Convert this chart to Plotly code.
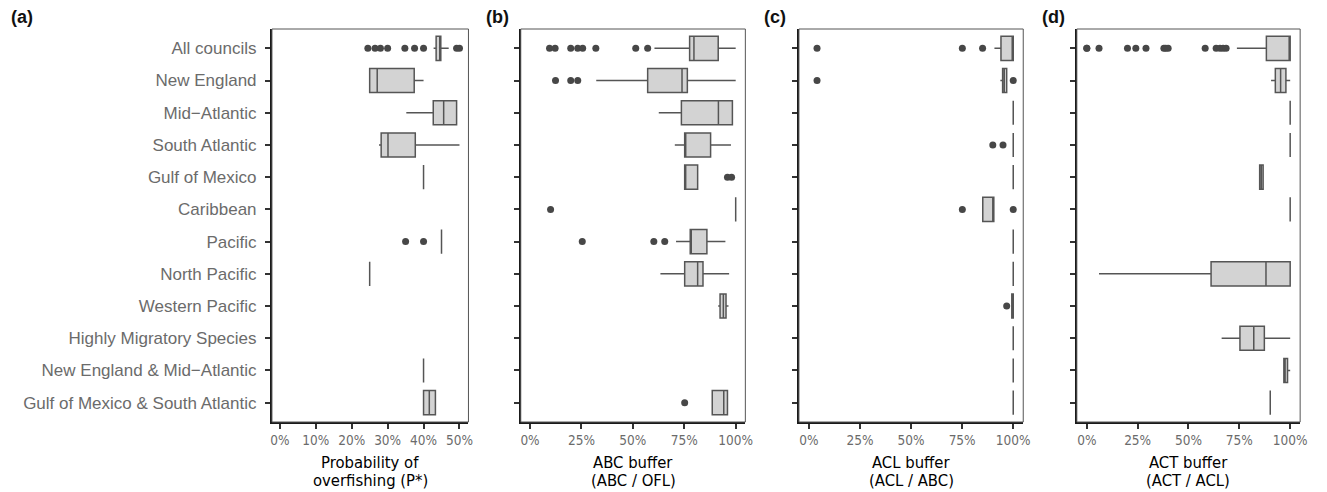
import plotly.graph_objects as go

categories = ["All councils", "New England", "Mid\u2212Atlantic", "South Atlantic",
              "Gulf of Mexico", "Caribbean", "Pacific", "North Pacific",
              "Western Pacific", "Highly Migratory Species",
              "New England & Mid\u2212Atlantic", "Gulf of Mexico & South Atlantic"]

# ---- Panel (a): Probability of overfishing (P*), percent
a_cat = ["All councils", "New England", "Mid\u2212Atlantic", "South Atlantic", "Gulf of Mexico",
         "Pacific", "North Pacific", "New England & Mid\u2212Atlantic", "Gulf of Mexico & South Atlantic"]
a_lo  = [42.8, 25.0, 35.2, 27.6, 40.0, 45.0, 25.0, 40.0, 40.0]
a_q1  = [43.5, 25.0, 42.7, 28.2, 40.0, 45.0, 25.0, 40.0, 40.0]
a_med = [44.5, 27.1, 45.6, 30.1, 40.0, 45.0, 25.0, 40.0, 41.6]
a_q3  = [44.8, 37.4, 49.2, 37.7, 40.0, 45.0, 25.0, 40.0, 43.3]
a_hi  = [47.0, 40.0, 49.2, 50.0, 40.0, 45.0, 25.0, 40.0, 43.3]
a_out_cat = ["All councils"] * 9 + ["Pacific"] * 2
a_out_val = [24.5, 26.5, 28.0, 30.0, 34.8, 37.5, 40.0, 49.2, 50.0, 35.0, 40.0]

# ---- Panel (b): ABC buffer (ABC / OFL)
b_cat = ["All councils", "New England", "Mid\u2212Atlantic", "South Atlantic", "Gulf of Mexico",
         "Caribbean", "Pacific", "North Pacific", "Western Pacific", "Gulf of Mexico & South Atlantic"]
b_lo  = [60.5, 32.2, 62.6, 70.4, 75.2, 100.0, 71.0, 63.4, 91.5, 88.6]
b_q1  = [77.6, 57.2, 73.6, 75.2, 75.2, 100.0, 77.9, 75.2, 92.4, 88.6]
b_med = [79.7, 73.9, 91.6, 75.7, 75.5, 100.0, 78.1, 81.5, 94.0, 94.2]
b_q3  = [91.5, 76.5, 98.4, 87.8, 81.5, 100.0, 86.0, 84.1, 95.3, 96.0]
b_hi  = [100.0, 100.0, 98.4, 97.7, 81.5, 100.0, 95.0, 96.8, 96.5, 96.0]
b_out_cat = (["All councils"] * 8 + ["New England"] * 3 + ["Gulf of Mexico"] * 2 +
             ["Caribbean"] + ["Pacific"] * 3 + ["Gulf of Mexico & South Atlantic"])
b_out_val = [9.5, 12.2, 19.8, 23.2, 25.6, 32.0, 51.4, 57.2,
             12.4, 19.8, 23.2, 96.0, 98.0, 10.0, 25.4, 60.2, 65.5, 75.2]

# ---- Panel (c): ACL buffer (ACL / ABC)
c_cat = ["All councils", "New England", "Mid\u2212Atlantic", "South Atlantic", "Gulf of Mexico",
         "Caribbean", "Pacific", "North Pacific", "Western Pacific", "Highly Migratory Species",
         "New England & Mid\u2212Atlantic", "Gulf of Mexico & South Atlantic"]
c_lo  = [90.8, 93.7, 100, 100, 100, 85.1, 100, 100, 99.3, 100, 100, 100]
c_q1  = [94.0, 94.8, 100, 100, 100, 85.1, 100, 100, 99.3, 100, 100, 100]
c_med = [100.0, 95.6, 100, 100, 100, 90.0, 100, 100, 100, 100, 100, 100]
c_q3  = [100.0, 96.8, 100, 100, 100, 90.5, 100, 100, 100, 100, 100, 100]
c_hi  = [100.0, 96.8, 100, 100, 100, 90.5, 100, 100, 100, 100, 100, 100]
c_out_cat = (["All councils"] * 3 + ["New England"] * 2 + ["South Atlantic"] * 2 +
             ["Caribbean"] * 2 + ["Western Pacific"])
c_out_val = [4.0, 75.1, 85.0, 4.0, 100.0, 90.0, 95.0, 75.1, 100.0, 96.8]

# ---- Panel (d): ACT buffer (ACT / ACL)
d_cat = ["All councils", "New England", "Mid\u2212Atlantic", "South Atlantic", "Gulf of Mexico",
         "Caribbean", "North Pacific", "Highly Migratory Species",
         "New England & Mid\u2212Atlantic", "Gulf of Mexico & South Atlantic"]
d_lo  = [73.8, 90.6, 100, 100, 84.9, 100, 6.0, 66.3, 96.9, 90.2]
d_q1  = [88.3, 92.7, 100, 100, 85.0, 100, 61.1, 75.3, 96.9, 90.2]
d_med = [100.0, 95.3, 100, 100, 85.8, 100, 88.1, 82.1, 97.5, 90.2]
d_q3  = [100.0, 97.9, 100, 100, 86.7, 100, 100.0, 87.3, 98.7, 90.2]
d_hi  = [100.0, 100.0, 100, 100, 86.7, 100, 100.0, 100.0, 100.0, 90.2]
d_out_cat = ["All councils"] * 14 + ["North Pacific"]
d_out_val = [0.0, 6.0, 20.0, 24.1, 29.1, 37.9, 38.8, 40.0, 58.2, 63.6, 65.5, 67.0, 68.5, 0.0]

x_titles_line1 = ["Probability of", "ABC buffer", "ACL buffer", "ACT buffer"]
x_titles_line2 = ["overfishing (P*)", "(ABC / OFL)", "(ACL / ABC)", "(ACT / ACL)"]
panel_tags = ["(a)", "(b)", "(c)", "(d)"]
tickvals_a = [0, 10, 20, 30, 40, 50]
tickvals_bcd = [0, 25, 50, 75, 100]

W, H = 1327, 492
doms_px = [(272, 470), (522.7, 749), (803, 1029), (1083, 1308)]
x_ranges = [[-2.2, 52.5], [-4.5, 104.7], [-4.85, 104.9], [-4.9, 104.9]]
y_dom = [1 - 422 / H, 1 - 29 / H]

panels = [
    (a_cat, a_lo, a_q1, a_med, a_q3, a_hi, a_out_cat, a_out_val),
    (b_cat, b_lo, b_q1, b_med, b_q3, b_hi, b_out_cat, b_out_val),
    (c_cat, c_lo, c_q1, c_med, c_q3, c_hi, c_out_cat, c_out_val),
    (d_cat, d_lo, d_q1, d_med, d_q3, d_hi, d_out_cat, d_out_val),
]

BOX_LINE = "#555555"
BOX_FILL = "#d3d3d3"
PT = "#474747"
NARROW = "DejaVu Sans Condensed, Liberation Sans Narrow, Arial Narrow, Liberation Sans, sans-serif"
SANS = "Liberation Sans, Arial, Helvetica, sans-serif"

fig = go.Figure()
layout = dict(
    width=W, height=H, margin=dict(l=0, r=0, t=0, b=0),
    paper_bgcolor="white", plot_bgcolor="white", showlegend=False,
)
annotations = []
shapes = []

for i, (cat, lo, q1, med, q3, hi, ocat, oval) in enumerate(panels):
    xn = "x" if i == 0 else f"x{i+1}"
    yn = "y" if i == 0 else f"y{i+1}"
    fig.add_trace(go.Box(
        y=cat, q1=q1, median=med, q3=q3, lowerfence=lo, upperfence=hi,
        orientation="h", boxpoints=False, width=0.75, whiskerwidth=0,
        fillcolor=BOX_FILL, line=dict(color=BOX_LINE, width=1.5),
        xaxis=xn, yaxis=yn, hoverinfo="skip",
    ))
    fig.add_trace(go.Scatter(
        x=oval, y=ocat, mode="markers",
        marker=dict(size=7, color=PT, line=dict(width=0)),
        xaxis=xn, yaxis=yn, hoverinfo="skip",
    ))
    d0, d1 = doms_px[i]
    tv = tickvals_a if i == 0 else tickvals_bcd
    xa = dict(
        domain=[d0 / W, d1 / W], range=x_ranges[i], anchor=yn,
        tickmode="array", tickvals=tv, ticktext=[f"{v}%" for v in tv],
        ticks="outside", ticklen=5, tickwidth=2, tickcolor="#333333",
        showline=True, linewidth=2, linecolor="#1a1a1a", mirror=False,
        showgrid=False, zeroline=False,
        tickfont=dict(family=NARROW, size=13.5, color="#6b6b6b"),
    )
    ya = dict(
        domain=y_dom, anchor=xn, type="category",
        categoryorder="array", categoryarray=categories,
        range=[11.6, -0.6],
        ticks="outside", ticklen=5, tickwidth=2, tickcolor="#333333",
        showline=True, linewidth=2, linecolor="#1a1a1a", mirror=False,
        showgrid=False, zeroline=False, showticklabels=(i == 0),
        ticklabelstandoff=5,
        tickfont=dict(family=SANS, size=17, color="#6b6b6b"),
    )
    layout["xaxis" if i == 0 else f"xaxis{i+1}"] = xa
    layout["yaxis" if i == 0 else f"yaxis{i+1}"] = ya
    # thin panel border (top/right)
    shapes.append(dict(type="rect", xref=f"{xn} domain", yref=f"{yn} domain",
                       x0=0, x1=1, y0=0, y1=1, line=dict(color="#555555", width=1),
                       fillcolor="rgba(0,0,0,0)", layer="above"))
    # x axis title, two lines
    for txt, ypx in ((x_titles_line1[i], 462), (x_titles_line2[i], 480)):
        annotations.append(dict(
            text=txt, xref="paper", yref="paper",
            x=(d0 + d1) / 2 / W, y=1 - ypx / H, xanchor="center", yanchor="middle",
            showarrow=False, align="center",
            font=dict(family=NARROW, size=16.5, color="#000000"),
        ))

tag_x = [7, 486, 766, 1046]
for i, t in enumerate(panel_tags):
    annotations.append(dict(
        text=f"<b>{t}</b>", xref="paper", yref="paper",
        x=tag_x[i] / W, y=1 - 17 / H, xanchor="left", yanchor="middle",
        showarrow=False, font=dict(family=SANS, size=18, color="#111111"),
    ))

layout["annotations"] = annotations
layout["shapes"] = shapes
fig.update_layout(**layout)
fig.write_html("out.html")
